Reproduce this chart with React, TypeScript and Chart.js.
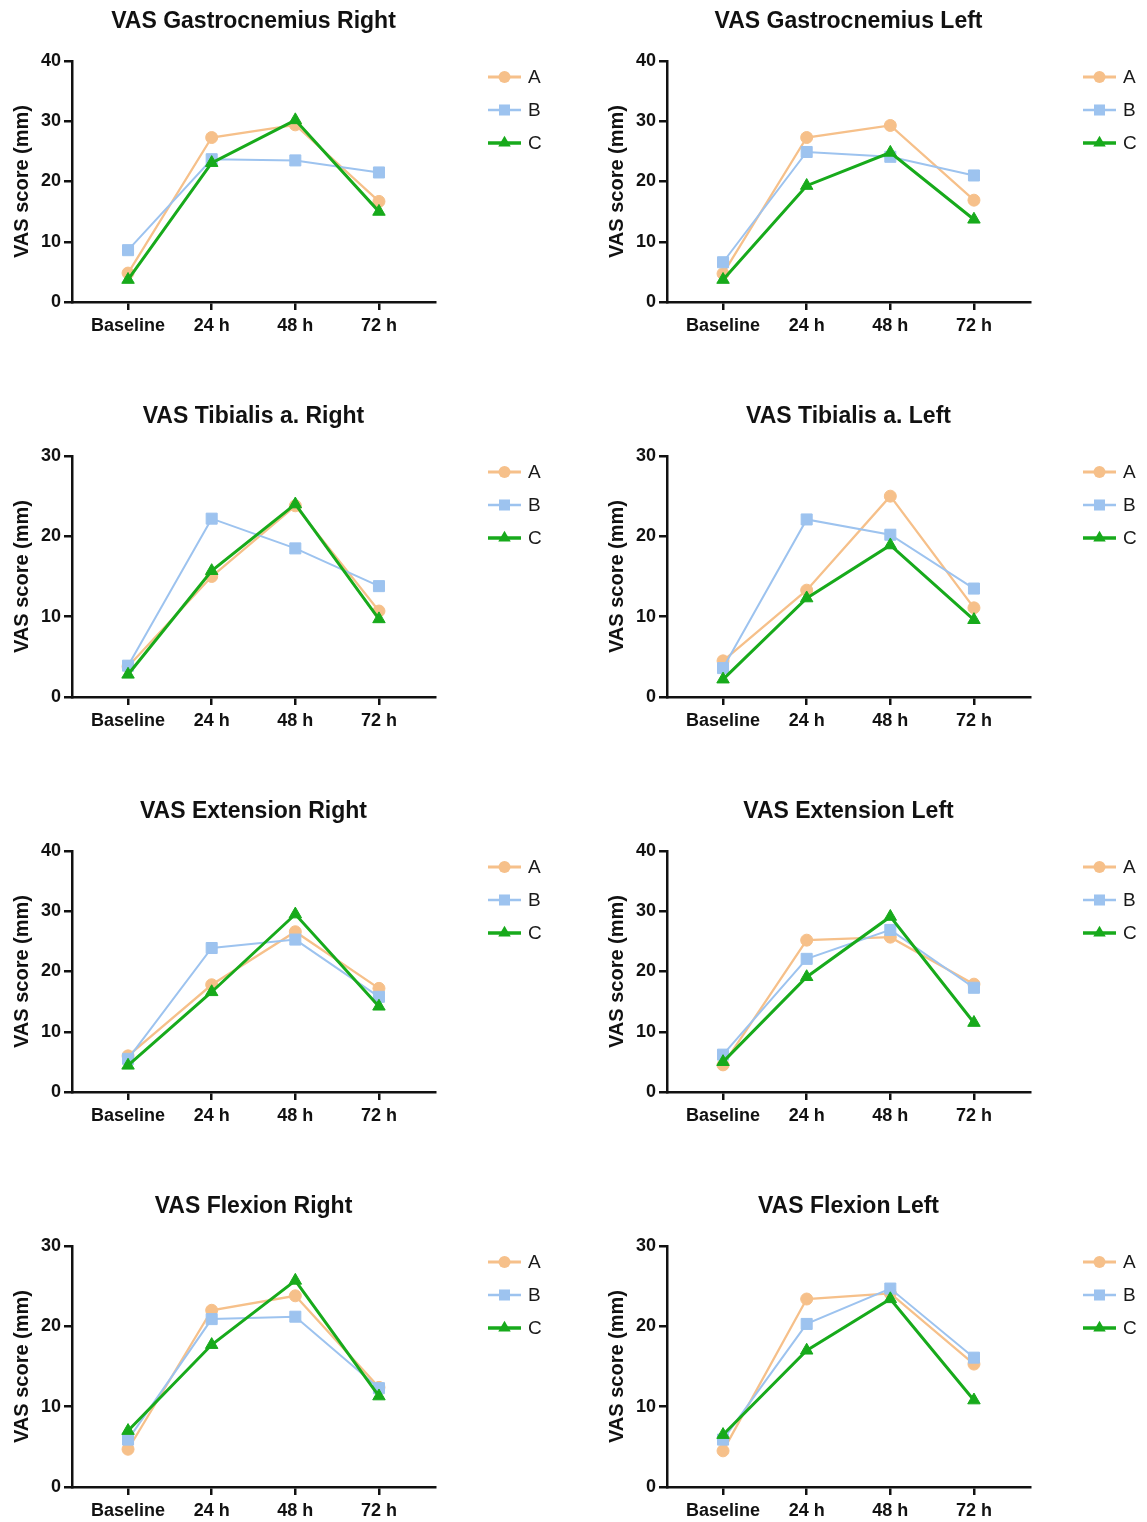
import React, { useEffect, useRef } from "react";
import { Chart, registerables } from "chart.js";

Chart.register(...registerables);

// ---- categories / labels ----
const timepoints = ["Baseline", "24 h", "48 h", "72 h"];
const groupNames = ["A", "B", "C"];
const yAxisLabel = "VAS score (mm)";

// ---- series values ----
const gastroRightA = [4.8, 27.3, 29.4, 16.7];
const gastroRightB = [8.6, 23.7, 23.5, 21.5];
const gastroRightC = [3.7, 23.1, 30.2, 15.0];

const gastroLeftA = [4.7, 27.3, 29.3, 16.9];
const gastroLeftB = [6.6, 24.9, 24.1, 21.0];
const gastroLeftC = [3.7, 19.3, 24.8, 13.7];

const tibRightA = [3.8, 15.0, 23.8, 10.7];
const tibRightB = [3.9, 22.2, 18.5, 13.8];
const tibRightC = [2.8, 15.7, 24.0, 9.7];

const tibLeftA = [4.5, 13.3, 25.0, 11.1];
const tibLeftB = [3.6, 22.1, 20.2, 13.5];
const tibLeftC = [2.2, 12.3, 18.9, 9.6];

const extRightA = [6.0, 17.8, 26.6, 17.2];
const extRightB = [5.5, 23.9, 25.3, 15.8];
const extRightC = [4.4, 16.6, 29.5, 14.2];

const extLeftA = [4.5, 25.2, 25.7, 17.9];
const extLeftB = [6.2, 22.1, 26.9, 17.3];
const extLeftC = [5.0, 19.1, 29.1, 11.5];

const flexRightA = [4.7, 22.0, 23.8, 12.4];
const flexRightB = [5.9, 20.9, 21.2, 12.3];
const flexRightC = [7.0, 17.7, 25.7, 11.3];

const flexLeftA = [4.5, 23.4, 24.1, 15.3];
const flexLeftB = [5.9, 20.3, 24.7, 16.1];
const flexLeftC = [6.5, 17.0, 23.4, 10.8];

const panelTitles = [
  "VAS Gastrocnemius Right",
  "VAS Gastrocnemius Left",
  "VAS Tibialis a. Right",
  "VAS Tibialis a. Left",
  "VAS Extension Right",
  "VAS Extension Left",
  "VAS Flexion Right",
  "VAS Flexion Left",
];
const panelYMax = [40, 40, 30, 30, 40, 40, 30, 30];
const panelSeries = [
  [gastroRightA, gastroRightB, gastroRightC],
  [gastroLeftA, gastroLeftB, gastroLeftC],
  [tibRightA, tibRightB, tibRightC],
  [tibLeftA, tibLeftB, tibLeftC],
  [extRightA, extRightB, extRightC],
  [extLeftA, extLeftB, extLeftC],
  [flexRightA, flexRightB, flexRightC],
  [flexLeftA, flexLeftB, flexLeftC],
];

// ---- styles ----
const FONT = '"Liberation Sans", Arial, Helvetica, sans-serif';
const INK = "#111111";
const groupStyles = [
  { color: "#F6C08A", pointStyle: "circle", radius: 6, lineWidth: 2.3, order: 2 },
  { color: "#9DC3EF", pointStyle: "rect", radius: 7.8, lineWidth: 2, order: 1 },
  { color: "#17AA1B", pointStyle: "triangle", radius: 7.2, lineWidth: 3, order: 0 },
];

const CANVAS_W = 552;
const CANVAS_H = 394;
const AREA_LEFT = 72;
const AREA_RIGHT = 435;
const AREA_TOP = 60;
const AREA_BOTTOM = 301;

const colLefts = [0, 595];
const rowTops = [1, 396, 791, 1186];

function drawMarker(ctx: CanvasRenderingContext2D, style: string, x: number, y: number, r: number) {
  ctx.beginPath();
  if (style === "circle") {
    ctx.arc(x, y, r, 0, Math.PI * 2);
  } else if (style === "rect") {
    const s = Math.SQRT1_2 * r;
    ctx.rect(x - s, y - s, 2 * s, 2 * s);
  } else {
    ctx.moveTo(x, y - r);
    ctx.lineTo(x + Math.sin((2 * Math.PI) / 3) * r, y - Math.cos((2 * Math.PI) / 3) * r);
    ctx.lineTo(x + Math.sin((4 * Math.PI) / 3) * r, y - Math.cos((4 * Math.PI) / 3) * r);
    ctx.closePath();
  }
  ctx.fill();
}

const titlePlugin = {
  id: "panelTitle",
  afterDraw(chart: any, _args: any, opts: any) {
    const { ctx, chartArea } = chart;
    ctx.save();
    ctx.font = `bold 23px ${FONT}`;
    ctx.fillStyle = INK;
    ctx.textAlign = "center";
    ctx.textBaseline = "middle";
    ctx.fillText(opts.text, (chartArea.left + chartArea.right) / 2, 21);
    ctx.restore();
  },
};

const legendPlugin = {
  id: "sideLegend",
  afterDraw(chart: any) {
    const { ctx } = chart;
    ctx.save();
    chart.data.datasets.forEach((ds: any, i: number) => {
      const y = 76 + i * 33;
      const x0 = 488;
      const x1 = 521;
      ctx.strokeStyle = ds.borderColor;
      ctx.fillStyle = ds.borderColor;
      ctx.lineWidth = ds.borderWidth + 0.5;
      ctx.beginPath();
      ctx.moveTo(x0, y);
      ctx.lineTo(x1, y);
      ctx.stroke();
      drawMarker(ctx, ds.pointStyle, (x0 + x1) / 2, y, ds.pointRadius);
      ctx.font = `19px ${FONT}`;
      ctx.fillStyle = "#1a1a1a";
      ctx.textAlign = "left";
      ctx.textBaseline = "middle";
      ctx.fillText(ds.label, 528, y + 1);
    });
    ctx.restore();
  },
};

function Panel({ index }: { index: number }) {
  const ref = useRef<HTMLCanvasElement | null>(null);
  useEffect(() => {
    if (!ref.current) return;
    const series = panelSeries[index];
    const datasets = series.map((values, g) => {
      const st = groupStyles[g];
      return {
        label: groupNames[g],
        data: values.map((v, i) => ({ x: i, y: v })),
        borderColor: st.color,
        backgroundColor: st.color,
        pointBackgroundColor: st.color,
        pointBorderColor: st.color,
        pointBorderWidth: 1,
        pointStyle: st.pointStyle,
        pointRadius: st.radius,
        borderWidth: st.lineWidth,
        tension: 0,
        clip: false,
        order: st.order,
      };
    });
    const chart = new Chart(ref.current, {
      type: "line",
      data: { datasets },
      plugins: [titlePlugin, legendPlugin],
      options: {
        animation: false,
        responsive: false,
        devicePixelRatio: 1,
        layout: {
          padding: { left: 0, top: AREA_TOP, right: CANVAS_W - AREA_RIGHT, bottom: 0 },
        },
        plugins: {
          legend: { display: false },
          title: { display: false },
          tooltip: { enabled: false },
          panelTitle: { text: panelTitles[index] },
        } as any,
        scales: {
          x: {
            type: "linear",
            min: -0.67,
            max: 3.67,
            afterBuildTicks: (sc: any) => {
              sc.ticks = timepoints.map((_, i) => ({ value: i }));
            },
            afterFit: (sc: any) => {
              sc.height = CANVAS_H - AREA_BOTTOM;
            },
            ticks: {
              autoSkip: false,
              maxRotation: 0,
              padding: 5,
              color: INK,
              font: { family: FONT, size: 18, weight: "bold" },
              callback: (v: any) => timepoints[v] ?? "",
            },
            grid: {
              display: true,
              drawOnChartArea: false,
              drawTicks: true,
              tickLength: 8,
              color: INK,
              lineWidth: 2.5,
            },
            border: { display: true, color: INK, width: 2.5 },
          },
          y: {
            type: "linear",
            min: 0,
            max: panelYMax[index],
            afterFit: (sc: any) => {
              sc.width = AREA_LEFT;
            },
            ticks: {
              stepSize: 10,
              padding: 3,
              color: INK,
              font: { family: FONT, size: 18, weight: "bold" },
            },
            grid: {
              display: true,
              drawOnChartArea: false,
              drawTicks: true,
              tickLength: 8,
              color: INK,
              lineWidth: 2.5,
            },
            border: { display: true, color: INK, width: 2.5 },
            title: {
              display: true,
              text: yAxisLabel,
              color: INK,
              font: { family: FONT, size: 20, weight: "bold" },
              padding: { top: 10, bottom: 0 },
            },
          },
        },
      } as any,
    });
    return () => chart.destroy();
  }, [index]);

  const col = index % 2;
  const row = Math.floor(index / 2);
  return (
    <canvas
      ref={ref}
      width={CANVAS_W}
      height={CANVAS_H}
      style={{
        position: "absolute",
        left: colLefts[col],
        top: rowTops[row],
        width: CANVAS_W,
        height: CANVAS_H,
      }}
    />
  );
}

export default function App() {
  return (
    <div
      style={{
        position: "absolute",
        left: 0,
        top: 0,
        width: 1147,
        height: 1522,
        overflow: "hidden",
        background: "#ffffff",
      }}
    >
      {panelTitles.map((_, i) => (
        <Panel key={i} index={i} />
      ))}
    </div>
  );
}
